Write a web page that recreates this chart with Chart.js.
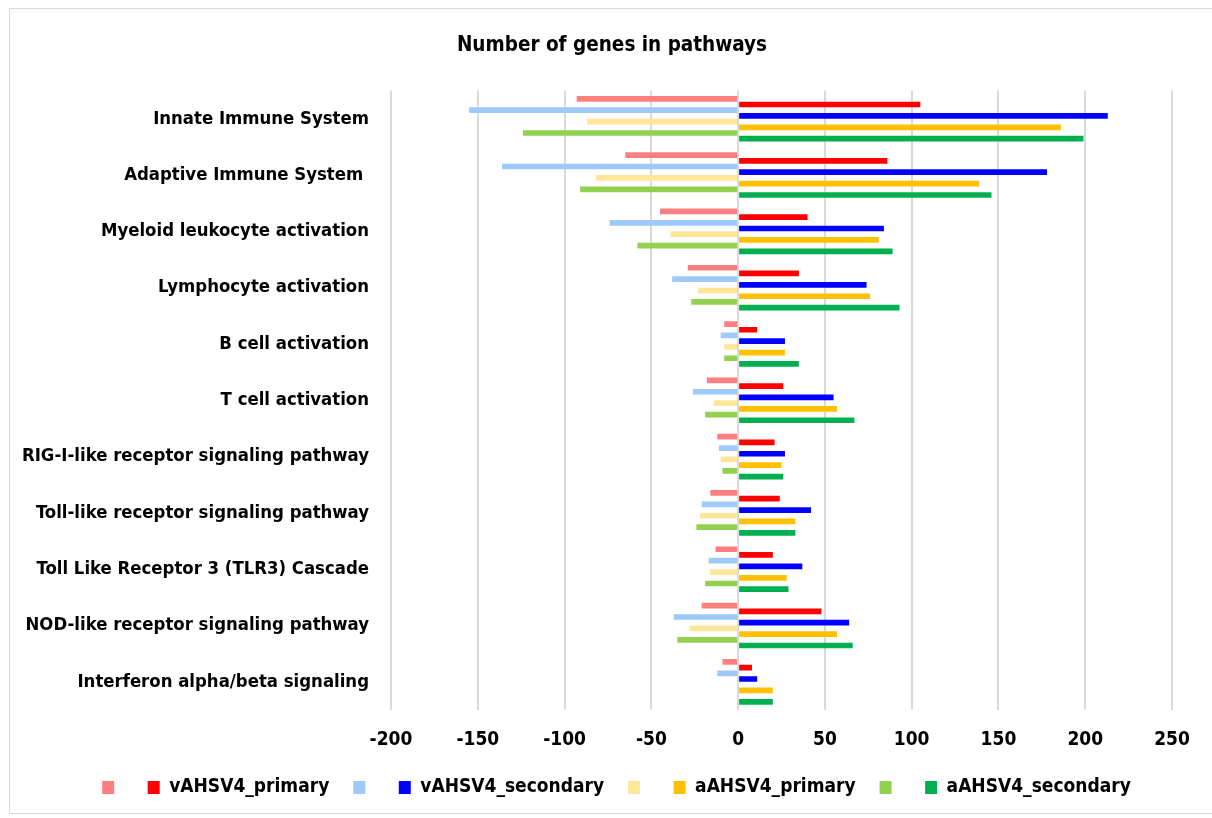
<!DOCTYPE html>
<html>
<head>
<meta charset="utf-8">
<title>Number of genes in pathways</title>
<script src="https://cdn.jsdelivr.net/npm/chart.js@4/dist/chart.umd.min.js"></script>
<style>
  html, body { margin: 0; padding: 0; background: #ffffff; }
  #frame {
    position: absolute; left: 9px; top: 8px; width: 1210px; height: 806px;
    border: 1px solid #d9d9d9; box-sizing: border-box;
  }
  #c { position: absolute; left: 0; top: 0; }
</style>
</head>
<body>
<div id="frame"></div>
<canvas id="c" width="1212" height="818"></canvas>
<script>
// Pathway categories (top to bottom)
const categories = [
  'Innate Immune System',
  'Adaptive Immune System ',
  'Myeloid leukocyte activation',
  'Lymphocyte activation',
  'B cell activation',
  'T cell activation',
  'RIG-I-like receptor signaling pathway',
  'Toll-like receptor signaling pathway',
  'Toll Like Receptor 3 (TLR3) Cascade',
  'NOD-like receptor signaling pathway',
  'Interferon alpha/beta signaling'
];

// Gene counts per pathway; the unlabelled series are drawn to the left of zero
const vPrimaryNeg   = [-93, -65, -45, -29,  -8, -18, -12, -16, -13, -21,  -9];
const vPrimary      = [105,  86,  40,  35,  11,  26,  21,  24,  20,  48,   8];
const vSecondaryNeg = [-155, -136, -74, -38, -10, -26, -11, -21, -17, -37, -12];
const vSecondary    = [213, 178,  84,  74,  27,  55,  27,  42,  37,  64,  11];
const aPrimaryNeg   = [-87, -82, -39, -23,  -8, -14, -10, -22, -16, -28,   0];
const aPrimary      = [186, 139,  81,  76,  27,  57,  25,  33,  28,  57,  20];
const aSecondaryNeg = [-124, -91, -58, -27,  -8, -19,  -9, -24, -19, -35,   0];
const aSecondary    = [199, 146,  89,  93,  35,  67,  26,  33,  29,  66,  20];

// Value axis ticks
const xTicks = [-200, -150, -100, -50, 0, 50, 100, 150, 200, 250];

const FONT = "'DejaVu Sans Condensed', 'Liberation Sans', Arial, sans-serif";

const series = [
  { label: '',                 data: vPrimaryNeg,   color: '#FF7F7F' },
  { label: 'vAHSV4_primary',   data: vPrimary,      color: '#FF0000' },
  { label: '',                 data: vSecondaryNeg, color: '#9DC9FB' },
  { label: 'vAHSV4_secondary', data: vSecondary,    color: '#0000FF' },
  { label: '',                 data: aPrimaryNeg,   color: '#FFE699' },
  { label: 'aAHSV4_primary',   data: aPrimary,      color: '#FFC000' },
  { label: '',                 data: aSecondaryNeg, color: '#92D050' },
  { label: 'aAHSV4_secondary', data: aSecondary,    color: '#00B050' }
];

// Centre the title and legend over the whole frame rather than the
// space left of the right-hand padding.
const recentreBlocks = {
  id: 'recentreBlocks',
  afterLayout(chart) {
    if (chart.titleBlock) chart.titleBlock.left = 52;
    if (chart.legend) chart.legend.left = 61;
  }
};

new Chart(document.getElementById('c'), {
  type: 'bar',
  data: {
    labels: categories,
    datasets: series.map(s => ({
      label: s.label,
      data: s.data,
      backgroundColor: s.color,
      borderWidth: 0,
      barPercentage: 1.0,
      categoryPercentage: 0.81
    }))
  },
  plugins: [recentreBlocks],
  options: {
    indexAxis: 'y',
    responsive: false,
    animation: false,
    layout: { padding: { left: 0, right: 40, top: 0, bottom: 11 } },
    plugins: {
      title: {
        display: true,
        text: 'Number of genes in pathways',
        color: '#000000',
        font: { family: FONT, size: 20.5, weight: 'bold' },
        padding: { top: 33, bottom: 33 }
      },
      legend: {
        position: 'bottom',
        labels: {
          color: '#000000',
          font: { family: FONT, size: 19, weight: 'bold' },
          boxWidth: 12,
          boxHeight: 13,
          padding: 24
        }
      },
      tooltip: { enabled: false }
    },
    scales: {
      x: {
        min: -200,
        max: 250,
        afterBuildTicks: (scale) => { scale.ticks = xTicks.map(v => ({ value: v })); },
        afterFit: (scale) => { scale.height = 44; },
        grid: { color: '#d9d9d9', lineWidth: 2, drawTicks: false },
        border: { display: false },
        ticks: {
          color: '#000000',
          font: { family: FONT, size: 19, weight: 'bold' },
          padding: 19
        }
      },
      y: {
        afterFit: (scale) => { scale.width = 391; },
        grid: { display: false, drawTicks: false },
        border: { display: false },
        ticks: {
          color: '#000000',
          font: { family: FONT, size: 18.4, weight: 'bold' },
          padding: 22
        }
      }
    }
  }
});
</script>
</body>
</html>
